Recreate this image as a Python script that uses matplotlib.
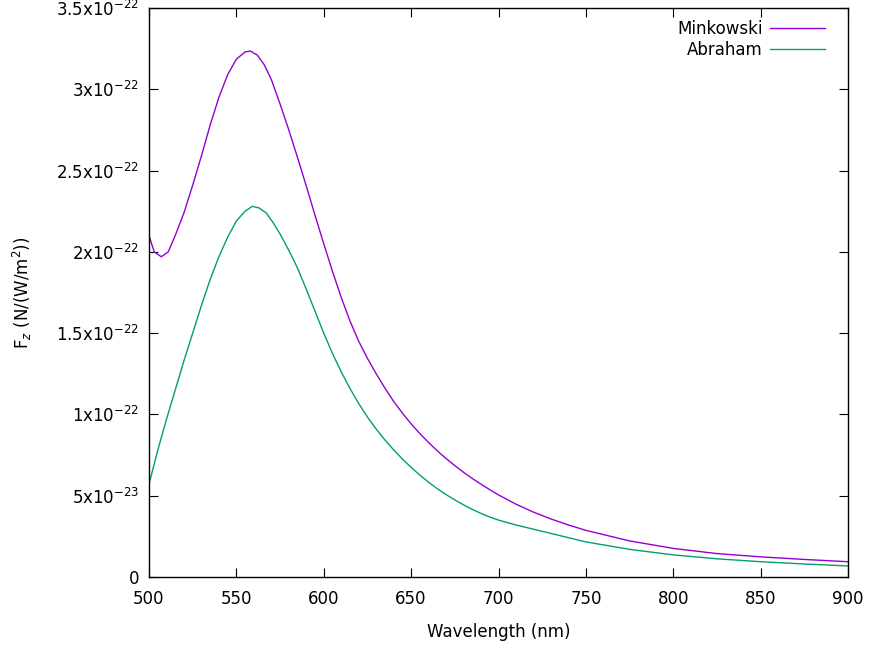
import matplotlib
matplotlib.use("Agg")
import matplotlib.pyplot as plt
from matplotlib.ticker import FixedLocator

plt.rcParams["font.family"] = ["DejaVu Sans"]
plt.rcParams["mathtext.fontset"] = "dejavusans"

# Wavelength samples (nm) and force per unit intensity (units of 1e-22 N/(W/m^2))
mink_wl = [500, 503, 507, 511, 515, 520, 525, 530, 535, 540, 545, 550, 555, 558,
           562, 566, 570, 575, 580, 585, 590, 595, 600, 605, 610, 615, 620, 625,
           630, 635, 640, 645, 650, 655, 660, 665, 670, 675, 680, 685, 690, 695,
           700, 710, 720, 730, 740, 750, 775, 800, 825, 850, 875, 900]
mink_f = [2.10, 2.00, 1.97, 2.00, 2.10, 2.24, 2.41, 2.59, 2.78, 2.95, 3.09, 3.185,
          3.23, 3.235, 3.21, 3.15, 3.06, 2.91, 2.75, 2.58, 2.405, 2.225, 2.05, 1.88,
          1.72, 1.575, 1.45, 1.345, 1.25, 1.162, 1.08, 1.008, 0.942, 0.882, 0.827,
          0.776, 0.729, 0.685, 0.644, 0.606, 0.571, 0.537, 0.505, 0.448, 0.399,
          0.357, 0.32, 0.287, 0.222, 0.176, 0.144, 0.124, 0.108, 0.094]

abr_wl = [500, 505, 510, 515, 520, 525, 530, 535, 540, 545, 550, 555, 559, 563,
          567, 571, 575, 580, 585, 590, 595, 600, 605, 610, 615, 620, 625, 630,
          635, 640, 645, 650, 655, 660, 665, 670, 675, 680, 685, 690, 695, 700,
          710, 720, 730, 740, 750, 775, 800, 825, 850, 875, 900]
abr_f = [0.57, 0.78, 0.97, 1.15, 1.33, 1.50, 1.67, 1.83, 1.97, 2.09, 2.19, 2.25,
         2.28, 2.27, 2.24, 2.18, 2.11, 2.01, 1.90, 1.77, 1.635, 1.50, 1.375, 1.262,
         1.16, 1.067, 0.984, 0.91, 0.843, 0.782, 0.726, 0.674, 0.627, 0.583, 0.543,
         0.507, 0.474, 0.444, 0.416, 0.391, 0.369, 0.35, 0.32, 0.294, 0.268, 0.242,
         0.216, 0.17, 0.136, 0.112, 0.094, 0.08, 0.068]

x_ticks = [500, 550, 600, 650, 700, 750, 800, 850, 900]
y_ticks = [0, 0.5e-22, 1e-22, 1.5e-22, 2e-22, 2.5e-22, 3e-22, 3.5e-22]
y_tick_labels = ["0", r"5x10$^{-23}$", r"1x10$^{-22}$", r"1.5x10$^{-22}$",
                 r"2x10$^{-22}$", r"2.5x10$^{-22}$", r"3x10$^{-22}$",
                 r"3.5x10$^{-22}$"]

fig = plt.figure(figsize=(8.69, 6.48), dpi=100)
ax = fig.add_axes([149 / 869, 71 / 648, 699 / 869, 569 / 648])

scale = 1e-22
ax.plot(mink_wl, [v * scale for v in mink_f], color="#9400D3", lw=1.0,
        label="Minkowski")
ax.plot(abr_wl, [v * scale for v in abr_f], color="#009E73", lw=1.0,
        label="Abraham")

ax.set_xlim(500, 900)
ax.set_ylim(0, 3.5e-22)
ax.xaxis.set_major_locator(FixedLocator(x_ticks))
ax.yaxis.set_major_locator(FixedLocator(y_ticks))
ax.set_yticklabels(y_tick_labels)
ax.minorticks_off()

ax.tick_params(direction="in", length=6.5, width=0.8, top=True, right=True,
               labelsize=12, color="black")
ax.tick_params(axis="x", pad=9)
ax.tick_params(axis="y", pad=7)
for sp in ax.spines.values():
    sp.set_linewidth(1.0)

ax.set_xlabel("Wavelength (nm)", fontsize=12, labelpad=11)
ax.set_ylabel(r"F$_z$ (N/(W/m$^2$))", fontsize=12, labelpad=16)

leg = ax.legend(loc="upper right", frameon=False, markerfirst=False,
                fontsize=12, handlelength=3.3, handletextpad=0.45,
                labelspacing=0.2, borderaxespad=0.3,
                bbox_to_anchor=(0.984, 1.0))

fig.savefig("out.png", dpi=100)
